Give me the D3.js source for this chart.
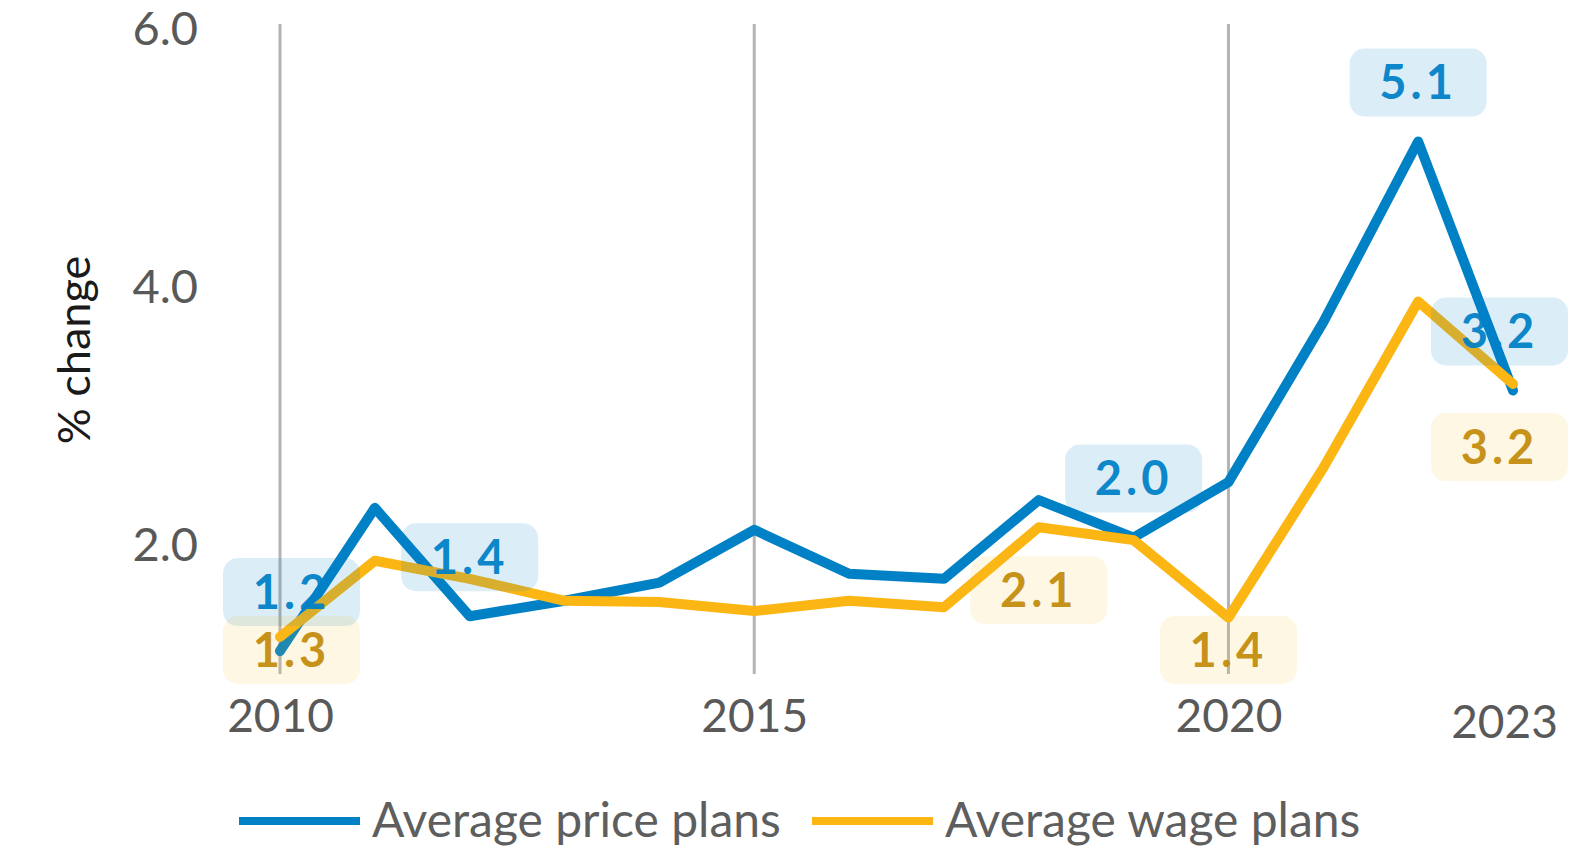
<!DOCTYPE html>
<html>
<head>
<meta charset="utf-8">
<script src="https://cdn.jsdelivr.net/npm/d3@7"></script>
<style>
  body { margin: 0; background: #fff; }
  text { font-family: Lato, "Open Sans", sans-serif; }
</style>
</head>
<body>
<script>
var years = [2010, 2011, 2012, 2013, 2014, 2015, 2016, 2017, 2018, 2019, 2020, 2021, 2022, 2023];
var pricePlans = [1.17, 2.28, 1.44, 1.56, 1.70, 2.11, 1.77, 1.73, 2.34, 2.05, 2.48, 3.72, 5.12, 3.19];
var wagePlans = [1.28, 1.87, 1.73, 1.56, 1.55, 1.48, 1.56, 1.51, 2.13, 2.03, 1.43, 2.59, 3.88, 3.24];
var yTicks = [2.0, 4.0, 6.0];
var xTicks = [2010, 2015, 2020, 2023];
var gridYears = [2010, 2015, 2020];
var seriesNames = ["Average price plans", "Average wage plans"];

// which points get a value box (index into years)
var priceLabelIdx = [0, 2, 9, 12, 13];
var wageLabelIdx = [0, 8, 10, 13];

var W = 1577, H = 851;
var blue = "#0081c6", yellow = "#fbb614";

var x = d3.scaleLinear().domain([2010, 2023]).range([280, 1513]);
var y = d3.scaleLinear().domain([1, 6]).range([673, 28]);

var svg = d3.select("body").append("svg")
    .attr("width", W)
    .attr("height", H);

// vertical grid
svg.selectAll("line.grid").data(gridYears).enter()
  .append("line")
    .attr("class", "grid")
    .attr("x1", function(d) { return x(d); })
    .attr("x2", function(d) { return x(d); })
    .attr("y1", y(6) - 4)
    .attr("y2", y(1) + 1)
    .attr("stroke", "#b4b4b4")
    .attr("stroke-width", 3);

// y axis
var yAxis = svg.append("g")
    .attr("transform", "translate(206,0)")
    .call(d3.axisLeft(y).tickValues(yTicks).tickSize(0).tickPadding(8).tickFormat(d3.format(".1f")));
yAxis.select(".domain").remove();
yAxis.selectAll("text")
    .style("font-size", "47px")
    .attr("fill", "#595959")
    .attr("dy", "0.35em");

// x axis
var xAxis = svg.append("g")
    .attr("transform", "translate(0,691)")
    .call(d3.axisBottom(x).tickValues(xTicks).tickSize(0).tickPadding(8).tickFormat(d3.format("d")));
xAxis.select(".domain").remove();
xAxis.selectAll("text")
    .style("font-size", "46px")
    .attr("fill", "#595959");
xAxis.selectAll(".tick").filter(function(d) { return d === 2023; })
    .select("text")
    .attr("dx", -9)
    .attr("y", 14);

// y title
svg.append("text")
    .attr("transform", "translate(90,350) rotate(-90)")
    .attr("text-anchor", "middle")
    .style("font-size", "45px")
    .attr("fill", "#1a1a1a")
    .text("% change");

var line = d3.line()
    .x(function(d, i) { return x(years[i]); })
    .y(function(d) { return y(d); })
    .curve(d3.curveLinear);

svg.append("path")
    .datum(pricePlans)
    .attr("d", line)
    .attr("fill", "none")
    .attr("stroke", blue)
    .attr("stroke-width", 10)
    .attr("stroke-linejoin", "round")
    .attr("stroke-linecap", "round");

svg.append("path")
    .datum(wagePlans)
    .attr("d", line)
    .attr("fill", "none")
    .attr("stroke", yellow)
    .attr("stroke-width", 10)
    .attr("stroke-linejoin", "round")
    .attr("stroke-linecap", "round");

// value boxes
var boxW = 137, boxH = 68;
function boxCenter(i, v, above) {
  var cx = x(years[i]), cy = y(v) + (above ? -59 : 63);
  cx = Math.max(223 + boxW / 2, Math.min(1568 - boxW / 2, cx));
  cy = Math.min(684 - boxH / 2, cy);
  return [cx, cy];
}

var labels = [];
priceLabelIdx.forEach(function(i) {
  labels.push({ i: i, v: pricePlans[i], above: true, fill: "rgba(0,129,198,0.14)", color: blue });
});
wageLabelIdx.forEach(function(i) {
  labels.push({ i: i, v: wagePlans[i], above: false, fill: "rgba(247,190,40,0.13)", color: "#c48c0c" });
});

var lab = svg.selectAll("g.lab").data(labels).enter()
  .append("g")
    .attr("class", "lab")
    .attr("transform", function(d) {
      var c = boxCenter(d.i, d.v, d.above);
      return "translate(" + c[0] + "," + c[1] + ")";
    });

lab.append("rect")
    .attr("x", -boxW / 2)
    .attr("y", -boxH / 2)
    .attr("width", boxW)
    .attr("height", boxH)
    .attr("rx", 15)
    .attr("fill", function(d) { return d.fill; });

lab.append("text")
    .attr("text-anchor", "middle")
    .attr("dy", "0.36em")
    .style("font-size", "47px")
    .style("font-weight", "bold")
    .style("letter-spacing", "4px")
    .attr("fill", function(d) { return d.color; })
    .attr("fill-opacity", 0.95)
    .text(function(d) { return d3.format(".1f")(d.v); });

// legend
var legend = svg.append("g").attr("transform", "translate(0,821)");
var legItems = [
  { name: seriesNames[0], color: blue, x0: 239 },
  { name: seriesNames[1], color: yellow, x0: 812 }
];
var li = legend.selectAll("g").data(legItems).enter().append("g")
    .attr("transform", function(d) { return "translate(" + d.x0 + ",0)"; });
li.append("line")
    .attr("x1", 0).attr("x2", 121)
    .attr("stroke", function(d) { return d.color; })
    .attr("stroke-width", 8);
li.append("text")
    .attr("x", 133)
    .attr("dy", "0.33em")
    .style("font-size", "48px")
    .attr("fill", "#5e5e5e")
    .text(function(d) { return d.name; });
</script>
</body>
</html>
